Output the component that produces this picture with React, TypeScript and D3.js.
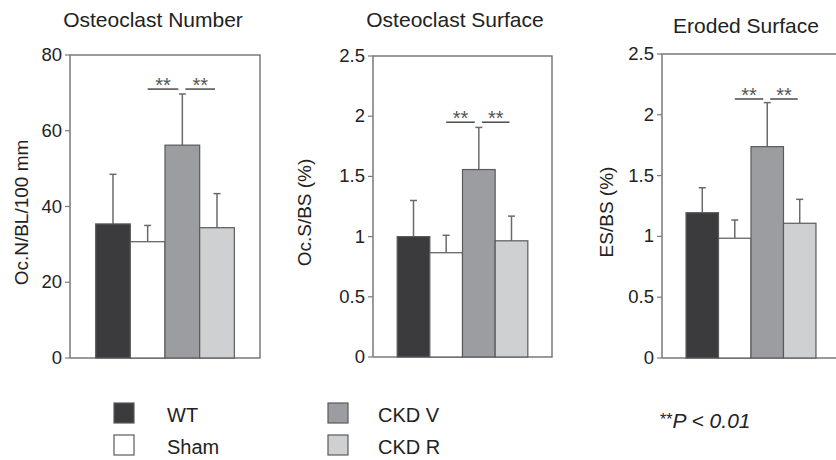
import React from 'react';
import * as d3 from 'd3';

const groups = ['WT', 'Sham', 'CKD V', 'CKD R'];
const groupColors = ['#3b3a3d', '#ffffff', '#9c9da0', '#cfd0d2'];

const ocNumberMean = [35.4, 30.7, 56.2, 34.4];
const ocNumberSd = [13.1, 4.3, 13.5, 9.0];
const ocNumberTicks = [0, 20, 40, 60, 80];

const ocSurfaceMean = [1.0, 0.866, 1.557, 0.965];
const ocSurfaceSd = [0.3, 0.145, 0.35, 0.205];

const erodedMean = [1.195, 0.985, 1.738, 1.108];
const erodedSd = [0.205, 0.15, 0.362, 0.197];

const pctTicks = [0, 0.5, 1, 1.5, 2, 2.5];

// significance lines: [from group, to group], height in data units
const sigPairs = [['Sham', 'CKD V'], ['CKD V', 'CKD R']];
const sigLevels = [71, 1.95, 2.13];

const FONT = '"Liberation Sans", Arial, sans-serif';

const panels = [
    { title: 'Osteoclast Number', ylabel: 'Oc.N/BL/100 mm', mean: ocNumberMean, sd: ocNumberSd, ticks: ocNumberTicks, max: 80,
      x0: 70, x1: 260, top: 55, bottom: 358, titleX: 153, titleY: 27, labelX: 28, sig: sigLevels[0] },
    { title: 'Osteoclast Surface', ylabel: 'Oc.S/BS (%)', mean: ocSurfaceMean, sd: ocSurfaceSd, ticks: pctTicks, max: 2.5,
      x0: 373, x1: 552, top: 56, bottom: 357, titleX: 455, titleY: 27, labelX: 311, sig: sigLevels[1] },
    { title: 'Eroded Surface', ylabel: 'ES/BS (%)', mean: erodedMean, sd: erodedSd, ticks: pctTicks, max: 2.5,
      x0: 662, x1: 840, top: 54, bottom: 358, titleX: 746, titleY: 33, labelX: 613, sig: sigLevels[2] },
];

function Panel({ p }) {
    const x = d3.scaleBand().domain(groups).range([p.x0, p.x1]).paddingInner(0).paddingOuter(0.74);
    const y = d3.scaleLinear().domain([0, p.max]).range([p.bottom, p.top]);
    const bw = x.bandwidth();
    const cx = (g) => x(g) + bw / 2;
    const sy = y(p.sig);
    return (
        <g>
            <text x={p.titleX} y={p.titleY} textAnchor="middle" fontSize={21} fill="#222">{p.title}</text>
            <text transform={`translate(${p.labelX},${(p.top + p.bottom) / 2 + 6}) rotate(-90)`} textAnchor="middle" fontSize={19} fill="#222">{p.ylabel}</text>
            {/* frame */}
            <path d={`M${p.x0},${p.bottom}V${p.top}H${p.x1}V${p.bottom}H${p.x0}`} fill="none" stroke="#7a7a7a" strokeWidth={1.5} />
            {p.ticks.map(t => (
                <g key={t}>
                    <line x1={p.x0 - 5} x2={p.x0} y1={y(t)} y2={y(t)} stroke="#7a7a7a" strokeWidth={1.2} />
                    <text x={p.x0 - 8} y={y(t) + 6} textAnchor="end" fontSize={18.5} fill="#222">{String(t)}</text>
                </g>
            ))}
            {groups.map((g, i) => (
                <g key={g}>
                    <line x1={cx(g)} x2={cx(g)} y1={y(p.mean[i])} y2={y(p.mean[i] + p.sd[i])} stroke="#6a6a6a" strokeWidth={1.5} />
                    <line x1={cx(g) - 3.5} x2={cx(g) + 3.5} y1={y(p.mean[i] + p.sd[i])} y2={y(p.mean[i] + p.sd[i])} stroke="#6a6a6a" strokeWidth={1.5} />
                    <rect x={x(g)} y={y(p.mean[i])} width={bw} height={y(0) - y(p.mean[i])} fill={groupColors[i]} stroke="#5a5a5a" strokeWidth={1.2} />
                </g>
            ))}
            {sigPairs.map(([a, b], k) => {
                const xa = k === 0 ? cx(a) : cx(a) + 3;
                const xb = k === 0 ? cx(b) - 4 : cx(b) - 2;
                return (
                    <g key={k}>
                        <line x1={xa} x2={xb} y1={sy} y2={sy} stroke="#555" strokeWidth={1.6} />
                        <text x={(xa + xb) / 2} y={sy + 3} textAnchor="middle" fontSize={20} fill="#555">**</text>
                    </g>
                );
            })}
        </g>
    );
}

export default function App() {
    const legendLeft = groups.slice(0, 2);
    const legendRight = groups.slice(2);
    return (
        <svg width={836} height={460} style={{ position: 'absolute', left: 0, top: 0, background: '#fff' }} fontFamily={FONT}>
            {panels.map(p => <Panel key={p.title} p={p} />)}
            {[legendLeft, legendRight].map((col, c) => col.map((g, r) => {
                const i = groups.indexOf(g);
                const bx = c === 0 ? 114 : 328;
                const by = 403 + r * 32;
                return (
                    <g key={g}>
                        <rect x={bx} y={by} width={20} height={20} fill={groupColors[i]} stroke="#5a5a5a" strokeWidth={1.2} />
                        <text x={bx + (c === 0 ? 53 : 50)} y={by + 19} fontSize={20} fill="#222">{g}</text>
                    </g>
                );
            }))}
            <text x={660} y={428} fontSize={21} fill="#222" fontStyle="italic">
                <tspan fontStyle="normal" fontSize={16} dy={-3}>**</tspan>
                <tspan dy={3}>P &lt; 0.01</tspan>
            </text>
        </svg>
    );
}
